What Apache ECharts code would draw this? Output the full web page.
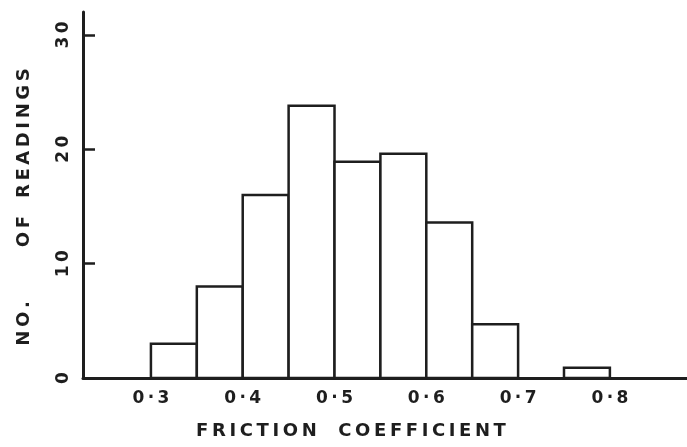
<!DOCTYPE html>
<html>
<head>
<meta charset="utf-8">
<script src="https://cdn.jsdelivr.net/npm/echarts@6/dist/echarts.min.js"></script>
<style>
  html, body { margin: 0; padding: 0; background: #fff; }
  #chart { width: 687px; height: 447px; }
</style>
</head>
<body>
<div id="chart"></div>
<script>
// Histogram of friction coefficient readings (bin edges and counts)
const binStarts = [0.30, 0.35, 0.40, 0.45, 0.50, 0.55, 0.60, 0.65, 0.75];
const binEnds   = [0.35, 0.40, 0.45, 0.50, 0.55, 0.60, 0.65, 0.70, 0.80];
const counts    = [3, 8, 16, 23.8, 18.9, 19.6, 13.6, 4.7, 0.9];
const xTickValues = [0.3, 0.4, 0.5, 0.6, 0.7, 0.8];
const yTickValues = [0, 10, 20, 30];
const xTitleWords = ['FRICTION', 'COEFFICIENT'];
const yTitleWords = ['NO.', 'OF', 'READINGS'];

// widen the lettering a little, like hand stencilled capitals
const spaced = s => s.split('').join('\u2009');

const ink = '#1e1e1e';
const font = '"DejaVu Sans", sans-serif';

const xTitle = xTitleWords.map(spaced).join('\u2003\u2009');
const yTitle = spaced(yTitleWords[0]) + '\u2003\u2003\u2003' +
               spaced(yTitleWords[1]) + '\u2003' + spaced(yTitleWords[2]);

const chart = echarts.init(document.getElementById('chart'), null, { renderer: 'canvas' });

chart.setOption({
  animation: false,
  backgroundColor: '#ffffff',
  grid: { left: 83, right: 0, top: 12, bottom: 69 },
  xAxis: {
    type: 'value',
    min: 0.226,
    max: 0.884,
    name: xTitle,
    nameLocation: 'middle',
    nameGap: 44,
    nameTextStyle: { color: ink, fontFamily: font, fontWeight: 'bold', fontSize: 18, padding: [0, 68, 0, 0] },
    axisLine: { show: true, onZero: false, lineStyle: { color: ink, width: 3 } },
    axisTick: { show: false },
    splitLine: { show: false },
    axisLabel: {
      customValues: xTickValues,
      margin: 12,
      color: ink,
      fontFamily: font,
      fontWeight: 'bold',
      fontSize: 17,
      formatter: v => spaced(v.toFixed(1).replace('.', '\u00B7'))
    }
  },
  yAxis: {
    type: 'value',
    min: 0,
    max: 32,
    name: yTitle,
    nameLocation: 'middle',
    nameGap: 50,
    nameRotate: 90,
    nameTextStyle: { color: ink, fontFamily: font, fontWeight: 'bold', fontSize: 18, padding: [0, 24, 0, 0] },
    axisLine: { show: true, lineStyle: { color: ink, width: 3 } },
    axisTick: { show: true, inside: true, length: 12, customValues: yTickValues, lineStyle: { color: ink, width: 2.5 } },
    splitLine: { show: false },
    axisLabel: {
      customValues: yTickValues,
      rotate: 90,
      margin: 11,
      color: ink,
      fontFamily: font,
      fontWeight: 'bold',
      fontSize: 17,
      formatter: v => spaced(String(v))
    }
  },
  series: [{
    type: 'custom',
    data: counts.map((c, i) => [binStarts[i], binEnds[i], c]),
    encode: { x: [0, 1], y: 2 },
    renderItem: function (params, api) {
      const p0 = api.coord([api.value(0), 0]);
      const p1 = api.coord([api.value(1), api.value(2)]);
      return {
        type: 'rect',
        shape: { x: p0[0], y: p1[1], width: p1[0] - p0[0], height: p0[1] - p1[1] },
        style: { fill: '#ffffff', stroke: ink, lineWidth: 2.5 }
      };
    }
  }]
});
</script>
</body>
</html>
